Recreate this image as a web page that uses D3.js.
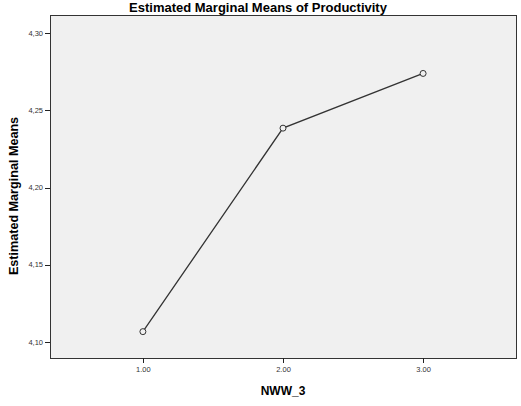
<!DOCTYPE html>
<html lang="en">
  <head>
    <meta charset="UTF-8" />
    <title>Estimated Marginal Means of Productivity</title>
    <style>
      body {
        margin: 0;
        background: #fff;
      }
      .axis path,
      .axis line {
        stroke: #222;
        shape-rendering: crispEdges;
      }
      .axis text {
        font-family: Arial, 'Liberation Sans', sans-serif;
        font-size: 7.5px;
        fill: #333;
      }
    </style>
  </head>
  <body>
    <div id="chart"></div>

    <script src="https://d3js.org/d3.v7.min.js"></script>
    <script>
      const levels = [1, 2, 3];
      const means = [4.1065, 4.2385, 4.274];
      const yTicks = [4.1, 4.15, 4.2, 4.25, 4.3];

      const W = 521;
      const H = 406;
      const margin = { top: 15, right: 5, bottom: 48, left: 50 };
      const width = W - margin.left - margin.right;
      const height = H - margin.top - margin.bottom;

      const svg = d3
        .select('#chart')
        .append('svg')
        .attr('width', W)
        .attr('height', H);

      const g = svg
        .append('g')
        .attr('transform', `translate(${margin.left}, ${margin.top})`);

      const x = d3.scaleLinear().domain([0.337, 3.663]).range([0, width]);
      const y = d3.scaleLinear().domain([4.0894, 4.3119]).range([height, 0]);

      // plot area
      g.append('rect')
        .attr('width', width)
        .attr('height', height)
        .attr('fill', '#f0f0f0')
        .attr('stroke', '#333')
        .attr('stroke-width', 1)
        .attr('shape-rendering', 'crispEdges');

      // axes
      g.append('g')
        .attr('class', 'axis')
        .attr('transform', `translate(0, ${height})`)
        .call(
          d3
            .axisBottom(x)
            .tickValues(levels)
            .tickSize(5)
            .tickPadding(4)
            .tickFormat(d3.format('.2f'))
        )
        .call((a) => a.select('.domain').remove());

      g.append('g')
        .attr('class', 'axis')
        .call(
          d3
            .axisLeft(y)
            .tickValues(yTicks)
            .tickSize(5)
            .tickPadding(2)
            .tickFormat((d) => d3.format('.2f')(d).replace('.', ','))
        )
        .call((a) => a.select('.domain').remove());

      // line
      const pts = levels.map((l, i) => [l, means[i]]);
      g.append('path')
        .datum(pts)
        .attr('fill', 'none')
        .attr('stroke', '#333')
        .attr('stroke-width', 1.3)
        .attr('d', d3.line().x((d) => x(d[0])).y((d) => y(d[1])));

      g.selectAll('.pt')
        .data(pts)
        .enter()
        .append('circle')
        .attr('class', 'pt')
        .attr('cx', (d) => x(d[0]))
        .attr('cy', (d) => y(d[1]))
        .attr('r', 3)
        .attr('fill', '#f0f0f0')
        .attr('stroke', '#333')
        .attr('stroke-width', 1);

      // title
      svg
        .append('text')
        .attr('x', 258)
        .attr('y', 12)
        .attr('text-anchor', 'middle')
        .style('font-family', 'Arial, "Liberation Sans", sans-serif')
        .style('font-weight', 'bold')
        .style('font-size', '13px')
        .text('Estimated Marginal Means of Productivity');

      // axis labels
      svg
        .append('text')
        .attr('x', margin.left + x(2))
        .attr('y', 395)
        .attr('text-anchor', 'middle')
        .style('font-family', 'Arial, "Liberation Sans", sans-serif')
        .style('font-weight', 'bold')
        .style('font-size', '12px')
        .text('NWW_3');

      svg
        .append('text')
        .attr('transform', 'rotate(-90)')
        .attr('x', -196)
        .attr('y', 18)
        .attr('text-anchor', 'middle')
        .style('font-family', 'Arial, "Liberation Sans", sans-serif')
        .style('font-weight', 'bold')
        .style('font-size', '12.6px')
        .text('Estimated Marginal Means');
    </script>
  </body>
</html>
